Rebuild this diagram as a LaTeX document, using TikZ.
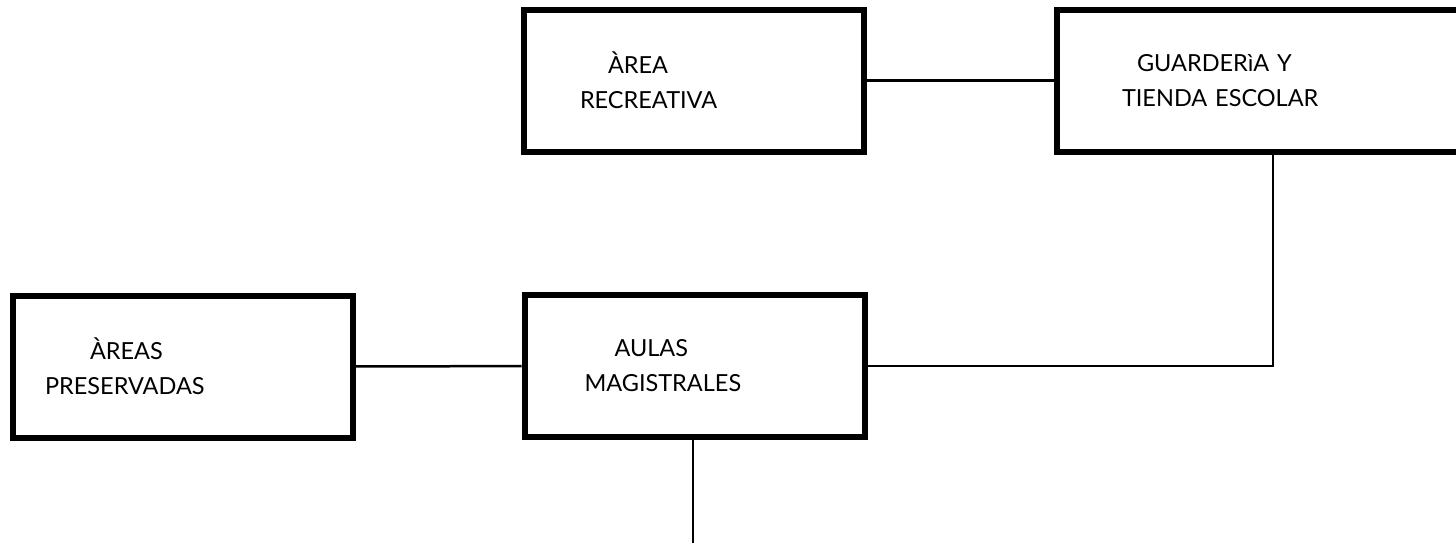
\documentclass[tikz,border=0pt]{standalone}
\usepackage{fontspec}
\setmainfont{Lato}
\usetikzlibrary{positioning}

\begin{document}
\begin{tikzpicture}[
  x=1pt, y=-1pt,
  area/.style={
    draw,
    line width=6pt,
    minimum width=340pt,
    minimum height=142pt,
    align=left,
    font=\fontsize{23.5}{35}\selectfont
  },
  link/.style={line width=2.5pt}
]
  \useasboundingbox (0,0) rectangle (1456,542);
  \clip (0,0) rectangle (1456,542);
  \node[area,inner xsep=56pt,text width=228pt] (recreativa) at (694,80.5)
    {\hspace*{28pt}ÀREA\\RECREATIVA};
  \node[area,inner xsep=65pt,text width=302pt,minimum width=432pt] (guarderia) at (1273,80.5)
    {\hspace*{15pt}GUARDERìA Y\\TIENDA ESCOLAR};
  \node[area,inner xsep=32pt,text width=276pt] (preservadas) at (183,366.5)
    {\hspace*{45pt}ÀREAS\\PRESERVADAS};
  \node[area,inner xsep=60pt,text width=220pt] (aulas) at (694.5,366)
    {\hspace*{30pt}AULAS\\MAGISTRALES};
  \coordinate (salida) at (693,545);
  % connectors
  \draw[link] (recreativa) -- (guarderia);
  \draw[link] (guarderia.south) |- (aulas.east);
  \draw[link] (preservadas) -- (aulas);
  \draw[link] (aulas.south -| salida) -- (salida);
\end{tikzpicture}
\end{document}
